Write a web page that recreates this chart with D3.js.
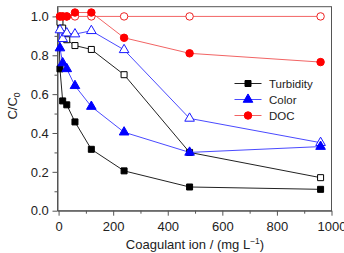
<!DOCTYPE html>
<html><head><meta charset="utf-8">
<script src="https://cdn.jsdelivr.net/npm/d3@7"></script>
<style>body{margin:0;background:#fff}svg{display:block;font-family:Arial,"Liberation Sans",sans-serif}</style>
</head><body><svg id="c" width="344" height="253"></svg>
<script>
const doses = [0, 5, 15, 30, 60, 120, 240, 480, 960];
const turbidityFilled = [1.0, 0.73, 0.565, 0.545, 0.457, 0.316, 0.205, 0.122, 0.11];
const turbidityOpen   = [1.0, 0.97, 0.94, 0.88, 0.85, 0.83, 0.70, 0.30, 0.17];
const colorFilled     = [1.0, 0.837, 0.76, 0.73, 0.643, 0.536, 0.404, 0.30, 0.33];
const colorOpen       = [1.0, 0.93, 0.885, 0.914, 0.909, 0.926, 0.828, 0.475, 0.35];
const docFilled       = [1.0, 1.0, 1.0, 1.0, 1.02, 1.02, 0.89, 0.81, 0.765];
const docOpen         = [1.0, 1.0, 1.0, 1.0, 1.0, 1.0, 1.0, 1.0, 1.0];
const xTicks = [0, 200, 400, 600, 800, 1000];
const yTicks = [0.0, 0.2, 0.4, 0.6, 0.8, 1.0];
const legendNames = ["Turbidity", "Color", "DOC"];

const svg = d3.select("#c");
const L = 57.5, R = 331.5, T = 6.7, B = 210.7;
const x = d3.scaleLinear().domain([-4, 1000]).range([L, R]);
const y = d3.scaleLinear().domain([0, 1.05]).range([B, T]);
const axisCol = "#555";

// frame
svg.append("rect").attr("x", L).attr("y", T).attr("width", R - L).attr("height", B - T)
  .attr("fill", "none").attr("stroke", axisCol).attr("stroke-width", 1);

// x axis
const xa = svg.append("g").attr("transform", `translate(0,${B})`)
  .call(d3.axisBottom(x).tickValues(xTicks).tickFormat(d3.format("d")).tickSize(5).tickSizeOuter(0));
svg.append("g").attr("transform", `translate(0,${B})`)
  .call(d3.axisBottom(x).tickValues(d3.range(100, 1000, 200)).tickFormat("").tickSize(3).tickSizeOuter(0))
  .select(".domain").remove();
// y axis
const ya = svg.append("g").attr("transform", `translate(${L},0)`)
  .call(d3.axisLeft(y).tickValues(yTicks).tickFormat(d3.format(".1f")).tickSize(5).tickSizeOuter(0));
svg.append("g").attr("transform", `translate(${L},0)`)
  .call(d3.axisLeft(y).tickValues(d3.range(0.1, 1.05, 0.2)).tickFormat("").tickSize(3).tickSizeOuter(0))
  .select(".domain").remove();
svg.selectAll(".tick line, .domain").attr("stroke", axisCol);
svg.selectAll(".tick text").attr("fill", "#222").attr("font-size", 13).attr("font-family", "Arial, 'Liberation Sans', sans-serif");
xa.selectAll(".tick text").attr("dy", "0.95em");
ya.selectAll(".tick text").attr("dx", "-0.05em");

// titles
const xt = svg.append("text").attr("x", 195).attr("y", 248.5).attr("text-anchor", "middle")
  .attr("font-size", 13).attr("fill", "#222");
xt.append("tspan").text("Coagulant ion / (mg L");
xt.append("tspan").text("\u22121").attr("font-size", 8.5).attr("dy", -5);
xt.append("tspan").text(")").attr("dy", 5);
const yt = svg.append("text").attr("transform", `translate(17,106) rotate(-90)`)
  .attr("text-anchor", "middle").attr("font-size", 13).attr("fill", "#222");
yt.append("tspan").text("C/C");
yt.append("tspan").text("0").attr("font-size", 8.5).attr("dy", 3);

const series = [
  {v: turbidityOpen, line: "#222", col: "#000", shape: "square", fill: false},
  {v: colorOpen, line: "#4a4aff", col: "#1a1aff", shape: "triangle", fill: false},
  {v: docOpen, line: "#f26464", col: "#ee2222", shape: "circle", fill: false},
  {v: turbidityFilled, line: "#222", col: "#000", shape: "square", fill: true},
  {v: colorFilled, line: "#4a4aff", col: "#0000ff", shape: "triangle", fill: true},
  {v: docFilled, line: "#f26464", col: "#ff0000", shape: "circle", fill: true}
];
const sym = {square: d3.symbolSquare, triangle: d3.symbolTriangle, circle: d3.symbolCircle};
const sz = {square: 36, triangle: 40, circle: 44};
const line = d3.line().x((d, i) => x(doses[i])).y(d => y(d));

series.forEach(s => {
  svg.append("path").datum(s.v).attr("d", line).attr("fill", "none")
    .attr("stroke", s.line).attr("stroke-width", 1);
});
series.forEach(s => {
  svg.append("g").selectAll("path").data(s.v.slice(1)).join("path")
    .attr("transform", (d, i) => `translate(${x(doses[i + 1])},${y(d)})`)
    .attr("d", d3.symbol(sym[s.shape], sz[s.shape]))
    .attr("fill", s.fill ? s.col : "#fff").attr("stroke", s.col).attr("stroke-width", 1);
});

// legend
const legCols = [["#222", "#000", "square"], ["#4a4aff", "#0000ff", "triangle"], ["#f26464", "#ff0000", "circle"]];
legendNames.forEach((n, i) => {
  const yy = 83.5 + i * 16;
  const g = svg.append("g");
  g.append("line").attr("x1", 234.5).attr("x2", 261.5).attr("y1", yy).attr("y2", yy)
    .attr("stroke", legCols[i][0]).attr("stroke-width", 1);
  g.append("path").attr("transform", `translate(248,${yy})`)
    .attr("d", d3.symbol(sym[legCols[i][2]], sz[legCols[i][2]]))
    .attr("fill", legCols[i][1]).attr("stroke", legCols[i][1]);
  g.append("text").attr("x", 269).attr("y", yy).attr("dy", "0.36em")
    .attr("font-size", 11.5).attr("fill", "#222").text(n);
});
</script></body></html>
